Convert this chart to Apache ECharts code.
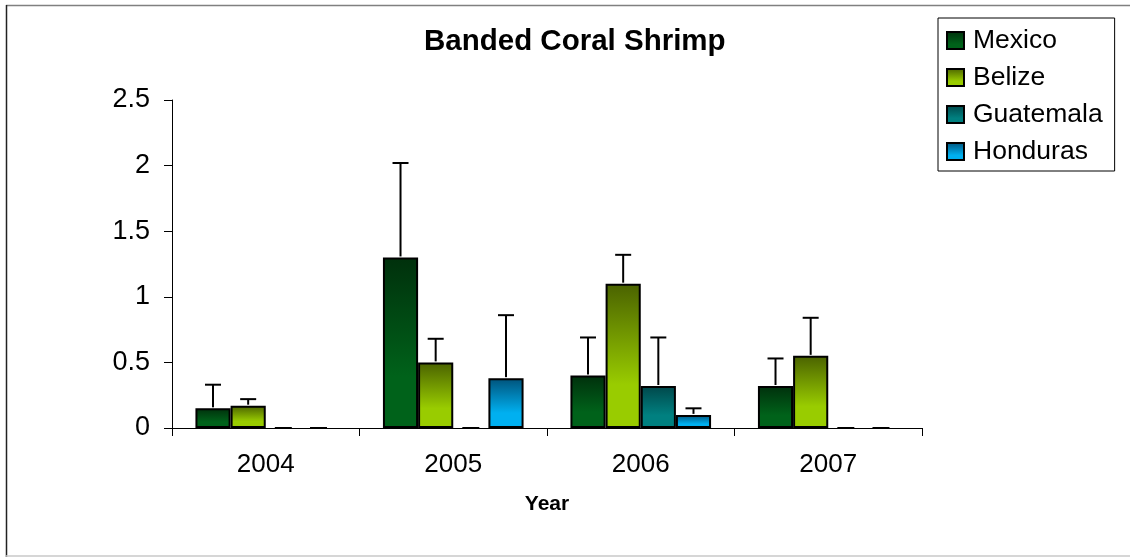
<!DOCTYPE html>
<html><head><meta charset="utf-8">
<script src="https://cdn.jsdelivr.net/npm/echarts@6/dist/echarts.min.js"></script>
<style>html,body{margin:0;padding:0;background:#fff}#c{width:1130px;height:557px}</style>
</head><body><div id="c"></div>
<script>
const years = ['2004', '2005', '2006', '2007'];
const seriesNames = ['Mexico', 'Belize', 'Guatemala', 'Honduras'];
const mexico = [0.15, 1.30, 0.40, 0.32];
const belize = [0.17, 0.50, 1.10, 0.55];
const guatemala = [0, 0, 0.32, 0];
const honduras = [0, 0.38, 0.10, 0];
const mexicoSD = [0.18, 0.72, 0.29, 0.21];
const belizeSD = [0.05, 0.18, 0.22, 0.29];
const guatemalaSD = [0, 0, 0.37, 0];
const hondurasSD = [0, 0.48, 0.05, 0];

const values = [mexico, belize, guatemala, honduras];
const sds = [mexicoSD, belizeSD, guatemalaSD, hondurasSD];
const gradients = [
  ['#00300c', '#00621a'],
  ['#4a6200', '#99cc00'],
  ['#00474a', '#008080'],
  ['#00527a', '#00b0f0']
];
const FONT = 'Liberation Sans, Arial, sans-serif';
const CAT_GAP = 0.25;

function grad(c) {
  return new echarts.graphic.LinearGradient(0, 0, 0, 1, [
    { offset: 0, color: c[0] }, { offset: 0.7, color: c[1] }, { offset: 1, color: c[1] }
  ]);
}

const barSeries = seriesNames.map((name, i) => ({
  name: name,
  type: 'bar',
  barGap: '0%',
  barCategoryGap: (CAT_GAP * 100) + '%',
  itemStyle: { color: grad(gradients[i]), borderColor: '#000', borderWidth: 2 },
  data: values[i].map(v => v === 0 ? { value: v, itemStyle: { borderWidth: 0 } } : v),
  emphasis: { disabled: true }
}));

const errData = [];
values.forEach((arr, s) => arr.forEach((v, c) => errData.push([c, s, v, v + sds[s][c]])));

const errSeries = {
  type: 'custom',
  name: 'err',
  z: 10,
  silent: true,
  data: errData,
  encode: { x: 0, y: 3 },
  renderItem: function (params, api) {
    const c = api.value(0), s = api.value(1), v = api.value(2), top = api.value(3);
    const bandW = api.size([1, 0])[0];
    const barW = bandW * (1 - CAT_GAP) / 4;
    const base = api.coord([c, v]);
    const x = base[0] + (s - 1.5) * barW;
    const style = { stroke: '#000', lineWidth: 2 };
    if (v === 0) {
      return { type: 'line', shape: { x1: x - 8.5, y1: base[1], x2: x + 8.5, y2: base[1] }, style: style };
    }
    const t = api.coord([c, top])[1];
    return {
      type: 'group',
      children: [
        { type: 'line', shape: { x1: x, y1: base[1] - 1, x2: x, y2: t }, style: style },
        { type: 'line', shape: { x1: x - 8, y1: t, x2: x + 8, y2: t }, style: style }
      ]
    };
  }
};

const chart = echarts.init(document.getElementById('c'), null, { renderer: 'canvas' });
chart.setOption({
  animation: false,
  backgroundColor: '#fff',
  title: {
    text: 'Banded Coral Shrimp',
    left: 419, top: 22,
    textStyle: { fontFamily: FONT, fontSize: 29.5, fontWeight: 'bold', color: '#000' }
  },
  legend: {
    data: seriesNames,
    orient: 'vertical',
    left: 938, top: 18,
    padding: [9, 12, 6, 8],
    itemGap: 10,
    itemWidth: 17, itemHeight: 17,
    borderColor: '#000', borderWidth: 1,
    icon: 'rect',
    textStyle: { fontFamily: FONT, fontSize: 26.5, color: '#000', padding: [0, 0, 0, 4] }
  },
  grid: { left: 172, right: 208, top: 100, bottom: 129, containLabel: false },
  xAxis: {
    type: 'category',
    data: years,
    name: 'Year',
    nameLocation: 'middle',
    nameGap: 66,
    nameTextStyle: { fontFamily: FONT, fontSize: 21, fontWeight: 'bold', color: '#000' },
    axisLine: { lineStyle: { color: '#000', width: 1 } },
    axisTick: { show: true, length: 8, lineStyle: { color: '#000' } },
    axisLabel: { fontFamily: FONT, fontSize: 26, color: '#000', margin: 24 }
  },
  yAxis: {
    type: 'value',
    min: 0, max: 2.5, interval: 0.5,
    axisLine: { show: true, lineStyle: { color: '#000', width: 1 } },
    axisTick: { show: true, length: 8, lineStyle: { color: '#000' } },
    splitLine: { show: false },
    axisLabel: { fontFamily: FONT, fontSize: 27, color: '#000', margin: 22 }
  },
  graphic: [
    { type: 'line', shape: { x1: 6, y1: 5.5, x2: 1130, y2: 5.5 }, style: { stroke: '#808080', lineWidth: 1.5 } },
    { type: 'line', shape: { x1: 6.5, y1: 5, x2: 6.5, y2: 557 }, style: { stroke: '#222', lineWidth: 1.5 } },
    { type: 'line', shape: { x1: 6, y1: 556, x2: 1130, y2: 556 }, style: { stroke: '#c8c8c8', lineWidth: 1.5 } }
  ],
  series: barSeries.concat([errSeries])
});
</script>
</body></html>
